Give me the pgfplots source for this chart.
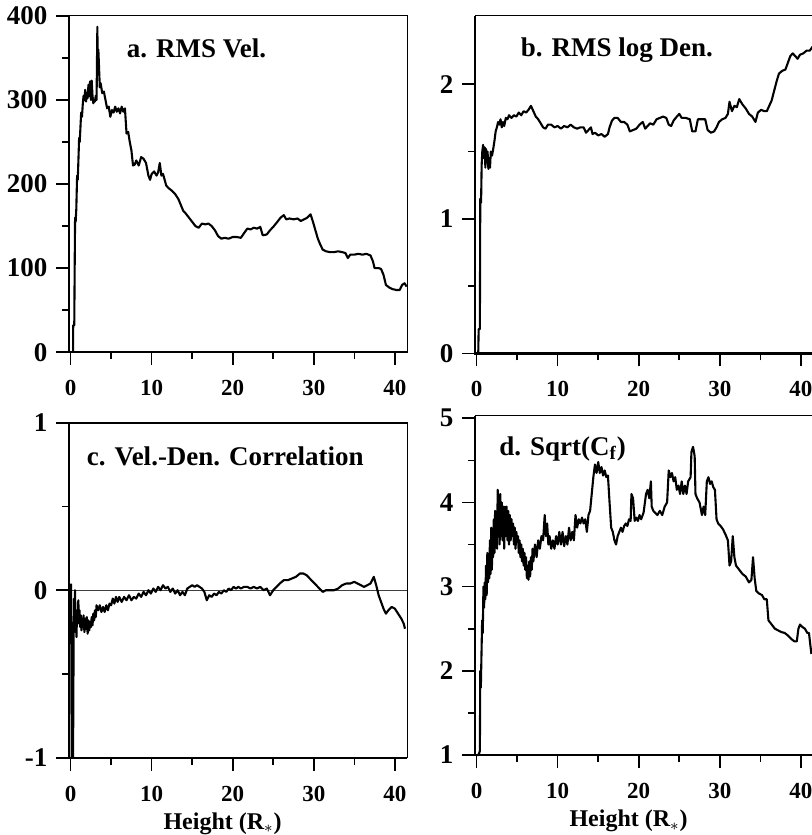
\documentclass[border=0pt]{standalone}
\usepackage{fontspec}
\setmainfont{Liberation Serif}
\usepackage{pgfplots}
\pgfplotsset{compat=1.18}
\pgfplotsset{
  panel/.style={
    scale only axis, width=169pt,
    xmin=-0.2, xmax=41.5,
    xtick={0,10,20,30,40}, xticklabels={0,10,20,30,40},
    minor x tick num=1, minor y tick num=1,
    tick align=outside, xtick pos=bottom, ytick pos=left,
    major tick length=6.5pt, minor tick length=3.5pt,
    tick style={black, line width=0.8pt},
    axis line style={line width=0.4pt},
    xticklabel style={font=\fontsize{11.5}{11.5}\selectfont\bfseries, yshift=-4pt},
    yticklabel style={font=\fontsize{13.5}{13.5}\selectfont\bfseries, xshift=-0.8pt},
    clip=false,
  },
  curve/.style={black, line width=1.05pt, mark=none, line join=round},
}
\tikzset{
  ttl/.style={anchor=base west, inner sep=0pt, font=\fontsize{13.5}{13.5}\selectfont\bfseries},
  hlab/.style={font=\fontsize{12}{12}\selectfont\bfseries},
}
\begin{document}
\begin{tikzpicture}
\useasboundingbox (0,0) rectangle (405.5pt,-417.5pt);
% ---------------- panel a
\begin{axis}[panel, at={(34.5pt,-7.5pt)}, anchor=north west, height=168.6pt,
  ymin=0, ymax=401, ytick={0,100,200,300,400}, yticklabels={0,100,200,300,400}]
\addplot[curve] coordinates {
(0.30,0)(0.32,32)(0.45,32)(0.50,100)(0.55,160)(0.62,155)(0.70,170)(0.80,210)(0.88,205)(0.95,225)
(1.05,255)(1.12,250)(1.20,265)(1.30,285)(1.40,280)(1.50,295)(1.60,305)(1.70,300)(1.80,312)(1.90,298)
(2.00,308)(2.10,302)(2.20,318)(2.30,305)(2.40,322)(2.50,300)(2.60,323)(2.70,305)(2.80,296)(2.90,300)
(3.00,298)(3.10,305)(3.20,300)(3.30,387)(3.35,330)(3.42,360)(3.50,340)(3.60,315)(3.70,320)(3.90,308)
(4.10,310)(4.30,300)(4.50,290)(4.70,292)(4.90,280)(5.10,288)(5.30,285)(5.50,292)(5.70,286)(5.90,290)
(6.10,284)(6.30,292)(6.50,286)(6.70,290)(6.90,260)(7.10,262)(7.30,250)(7.50,240)(7.70,222)(7.90,223)
(8.10,228)(8.40,222)(8.70,232)(9.00,230)(9.30,225)(9.60,210)(9.80,205)(10.00,212)(10.30,215)(10.60,210)
(10.80,214)(11.00,225)(11.20,210)(11.40,212)(11.60,205)(11.80,198)(12.10,195)(12.50,192)(12.90,188)(13.30,182)
(13.60,175)(13.90,168)(14.20,165)(14.60,160)(15.00,155)(15.40,150)(15.80,148)(16.20,153)(16.60,152)(17.00,153)
(17.40,150)(17.80,145)(18.20,138)(18.60,135)(19.00,136)(19.50,135)(20.00,137)(20.50,137)(21.00,136)(21.50,143)
(21.80,147)(22.20,146)(22.60,148)(23.00,147)(23.40,149)(23.70,139)(24.20,140)(24.60,145)(25.00,149)(25.50,155)
(25.90,160)(26.30,163)(26.60,158)(27.00,159)(27.50,158)(28.00,159)(28.40,156)(28.80,158)(29.20,160)(29.60,164)
(29.90,155)(30.20,145)(30.50,135)(30.80,128)(31.10,122)(31.50,120)(32.00,119)(32.50,119)(33.00,120)(33.50,119)
(33.90,118)(34.20,112)(34.50,116)(35.00,116)(35.50,117)(36.00,116)(36.50,117)(37.00,115)(37.30,108)(37.50,100)
(38.00,100)(38.30,99)(38.60,92)(38.90,80)(39.30,77)(39.70,75)(40.20,74)(40.60,74)(40.90,80)(41.20,82)(41.45,78)
};
\draw[line width=1.2pt] (rel axis cs:0,1) -- (rel axis cs:0,0) -- (rel axis cs:1,0);
\node[ttl] at (axis cs:6.9,350) {a. RMS Vel.};
\end{axis}
% ---------------- panel b
\begin{axis}[panel, at={(237.5pt,-7.85pt)}, anchor=north west, height=168.8pt,
  ymin=0, ymax=2.51, ytick={0,1,2}, yticklabels={0,1,2}]
\addplot[curve] coordinates {
(0.05,0)(0.20,0)(0.25,0.18)(0.40,0.18)(0.45,1.15)(0.55,1.12)(0.62,1.40)(0.70,1.50)(0.80,1.55)(0.90,1.45)
(1.00,1.53)(1.08,1.38)(1.15,1.52)(1.25,1.42)(1.35,1.50)(1.45,1.37)(1.55,1.45)(1.65,1.38)(1.75,1.50)(1.90,1.47)
(2.05,1.52)(2.20,1.58)(2.35,1.65)(2.50,1.68)(2.65,1.72)(2.80,1.70)(2.95,1.74)(3.10,1.68)(3.25,1.72)(3.40,1.69)
(3.60,1.75)(3.80,1.74)(4.00,1.77)(4.30,1.75)(4.60,1.77)(4.90,1.76)(5.20,1.79)(5.50,1.77)(5.80,1.80)(6.10,1.79)
(6.40,1.81)(6.70,1.84)(7.00,1.80)(7.30,1.76)(7.60,1.74)(7.90,1.71)(8.20,1.68)(8.50,1.67)(8.80,1.70)(9.20,1.70)
(9.60,1.68)(10.00,1.69)(10.40,1.67)(10.80,1.69)(11.20,1.68)(11.60,1.70)(12.00,1.68)(12.40,1.67)(12.80,1.68)(13.20,1.68)
(13.50,1.64)(13.80,1.66)(14.10,1.68)(14.30,1.63)(14.60,1.64)(15.00,1.62)(15.40,1.63)(15.80,1.61)(16.20,1.63)(16.40,1.68)
(16.70,1.73)(17.00,1.75)(17.40,1.75)(17.80,1.72)(18.20,1.72)(18.60,1.70)(18.90,1.65)(19.30,1.66)(19.70,1.67)(20.10,1.70)
(20.50,1.72)(20.80,1.67)(21.10,1.69)(21.40,1.71)(21.80,1.70)(22.20,1.74)(22.60,1.75)(23.00,1.76)(23.40,1.75)(23.70,1.70)
(24.00,1.69)(24.30,1.73)(24.70,1.76)(25.00,1.78)(25.30,1.75)(25.80,1.75)(26.30,1.74)(26.60,1.65)(27.00,1.65)(27.30,1.74)
(27.80,1.74)(28.20,1.74)(28.50,1.66)(28.90,1.64)(29.30,1.65)(29.60,1.68)(29.90,1.72)(30.30,1.74)(30.70,1.75)(31.00,1.78)
(31.20,1.87)(31.50,1.80)(31.80,1.84)(32.10,1.83)(32.40,1.89)(32.80,1.85)(33.20,1.82)(33.60,1.78)(34.00,1.76)(34.40,1.72)
(34.70,1.79)(35.10,1.81)(35.50,1.80)(35.80,1.80)(36.10,1.84)(36.40,1.88)(36.70,1.95)(37.00,2.02)(37.30,2.08)(37.70,2.10)
(38.10,2.11)(38.40,2.16)(38.70,2.21)(39.00,2.23)(39.30,2.21)(39.60,2.19)(39.90,2.22)(40.30,2.23)(40.70,2.25)(41.10,2.25)(41.45,2.28)
};
\draw[line width=1.2pt] (rel axis cs:0,1) -- (rel axis cs:0,0) -- (rel axis cs:1,0);
\node[ttl] at (axis cs:5.4,2.205) {b. RMS log Den.};
\end{axis}
% ---------------- panel c
\begin{axis}[panel, at={(34.5pt,-211.35pt)}, anchor=north west, height=167.5pt,
  ymin=-1, ymax=1, ytick={-1,0,1}, yticklabels={-1,0,1}]
\draw[line width=0.6pt, black!75] (axis cs:-0.2,0) -- (axis cs:41.5,0);
\addplot[curve] coordinates {
(0.05,0.04)(0.10,-0.5)(0.13,-1.0)(0.18,-0.98)(0.22,-0.6)(0.26,-0.6)(0.30,-1.0)(0.34,-0.6)(0.38,-0.2)(0.42,-0.05)
(0.48,-0.20)(0.55,0.00)(0.60,-0.25)(0.66,-0.15)(0.72,-0.28)(0.80,-0.12)(0.88,-0.20)(0.95,-0.06)(1.02,-0.18)(1.10,-0.12)
(1.18,-0.22)(1.26,-0.15)(1.34,-0.24)(1.42,-0.17)(1.50,-0.22)(1.60,-0.15)(1.70,-0.25)(1.80,-0.17)(1.90,-0.23)(2.00,-0.16)
(2.10,-0.26)(2.20,-0.18)(2.30,-0.24)(2.40,-0.19)(2.50,-0.22)(2.60,-0.16)(2.70,-0.21)(2.80,-0.14)(2.90,-0.18)(3.00,-0.12)
(3.10,-0.16)(3.20,-0.09)(3.40,-0.12)(3.60,-0.09)(3.80,-0.13)(4.00,-0.10)(4.20,-0.13)(4.40,-0.09)(4.60,-0.12)(4.80,-0.08)
(5.00,-0.09)(5.20,-0.05)(5.40,-0.08)(5.60,-0.04)(5.80,-0.07)(6.00,-0.04)(6.30,-0.07)(6.60,-0.04)(6.90,-0.06)(7.20,-0.03)
(7.50,-0.06)(7.80,-0.04)(8.10,-0.05)(8.40,-0.02)(8.70,-0.04)(9.00,-0.01)(9.30,-0.03)(9.60,0.00)(9.90,-0.02)(10.20,0.01)
(10.50,-0.01)(10.80,0.02)(11.10,0.00)(11.40,0.03)(11.70,0.01)(12.00,0.02)(12.30,-0.01)(12.60,0.01)(12.90,-0.02)(13.20,0.00)
(13.50,-0.03)(13.80,-0.01)(14.10,-0.03)(14.40,0.01)(14.70,0.02)(15.00,0.03)(15.30,0.02)(15.60,0.03)(15.90,0.02)(16.20,0.01)
(16.50,-0.01)(16.80,-0.06)(17.10,-0.03)(17.40,-0.04)(17.70,-0.02)(18.00,-0.03)(18.30,-0.01)(18.60,-0.02)(18.90,0.00)(19.20,-0.01)
(19.50,0.01)(19.80,0.00)(20.10,0.02)(20.40,0.01)(20.70,0.02)(21.00,0.01)(21.40,0.02)(21.80,0.02)(22.20,0.01)(22.60,0.02)
(23.00,0.01)(23.40,0.02)(23.80,0.00)(24.20,0.01)(24.60,-0.03)(25.00,0.00)(25.40,0.02)(25.80,0.04)(26.30,0.06)(26.80,0.06)
(27.30,0.07)(27.80,0.08)(28.30,0.10)(28.70,0.10)(29.10,0.09)(29.50,0.07)(29.90,0.05)(30.30,0.03)(30.70,0.01)(31.10,-0.01)
(31.50,0.00)(32.00,0.00)(32.50,0.00)(33.00,0.01)(33.50,0.03)(34.00,0.04)(34.50,0.04)(35.00,0.05)(35.40,0.04)(35.80,0.03)
(36.20,0.02)(36.60,0.03)(37.00,0.04)(37.40,0.08)(37.70,0.03)(38.00,-0.03)(38.30,-0.07)(38.60,-0.11)(38.90,-0.14)(39.20,-0.12)
(39.60,-0.10)(40.00,-0.11)(40.40,-0.14)(40.80,-0.17)(41.10,-0.20)(41.25,-0.23)
};
\draw[line width=1.2pt] (rel axis cs:0,1) -- (rel axis cs:0,0) -- (rel axis cs:1,0);
\draw[line width=0.9pt] (rel axis cs:0,1) -- (rel axis cs:1,1);
\node[ttl] at (axis cs:1.97,0.746) {c. Vel.-Den. Correlation};
\node[hlab] at (axis cs:18.75,-1) [yshift=-33pt] {Height (R$_{\ast}$)};
\end{axis}
% ---------------- panel d
\begin{axis}[panel, at={(237.5pt,-207.85pt)}, anchor=north west, height=169.65pt,
  ymin=1, ymax=5.03, ytick={1,2,3,4,5}, yticklabels={1,2,3,4,5}]
\addplot[curve] coordinates {
(0.05,1.00)(0.25,1.00)(0.40,1.05)(0.45,2.00)(0.52,1.80)(0.60,2.20)(0.68,2.60)(0.76,2.45)(0.84,3.00)(0.92,2.75)
(1.00,3.05)(1.08,2.85)(1.16,3.25)(1.24,2.90)(1.32,3.40)(1.40,3.05)(1.48,3.30)(1.56,3.10)(1.64,3.55)(1.72,3.15)
(1.80,3.70)(1.88,3.20)(1.96,3.60)(2.04,3.35)(2.12,3.80)(2.20,3.40)(2.28,3.90)(2.36,3.50)(2.44,3.85)(2.52,3.45)
(2.60,4.15)(2.68,3.60)(2.76,4.05)(2.84,3.50)(2.92,4.10)(3.00,3.60)(3.10,4.00)(3.20,3.55)(3.30,3.95)(3.40,3.45)
(3.50,3.95)(3.60,3.60)(3.70,3.95)(3.80,3.55)(3.90,3.90)(4.00,3.50)(4.10,3.85)(4.20,3.55)(4.30,3.80)(4.40,3.60)
(4.50,3.75)(4.60,3.50)(4.70,3.70)(4.80,3.45)(4.90,3.65)(5.00,3.55)(5.10,3.60)(5.20,3.40)(5.30,3.55)(5.40,3.35)
(5.50,3.50)(5.60,3.30)(5.70,3.45)(5.80,3.25)(5.90,3.40)(6.00,3.20)(6.10,3.35)(6.20,3.10)(6.30,3.25)(6.40,3.08)
(6.50,3.30)(6.60,3.12)(6.70,3.35)(6.80,3.20)(6.90,3.45)(7.00,3.30)(7.20,3.50)(7.40,3.35)(7.60,3.55)(7.80,3.45)
(8.00,3.60)(8.20,3.55)(8.40,3.85)(8.55,3.60)(8.70,3.75)(8.85,3.50)(9.00,3.60)(9.20,3.45)(9.40,3.55)(9.60,3.45)
(9.80,3.60)(10.00,3.50)(10.20,3.65)(10.40,3.50)(10.60,3.65)(10.80,3.48)(11.00,3.60)(11.20,3.50)(11.40,3.70)(11.60,3.55)
(11.80,3.65)(12.00,3.55)(12.20,3.85)(12.40,3.70)(12.60,3.80)(12.80,3.75)(13.00,3.82)(13.20,3.75)(13.40,3.80)(13.60,3.65)
(13.80,3.85)(14.00,3.90)(14.20,4.10)(14.40,4.30)(14.60,4.45)(14.80,4.35)(15.00,4.48)(15.20,4.35)(15.40,4.42)(15.60,4.32)
(15.80,4.38)(16.00,4.30)(16.20,4.32)(16.40,4.00)(16.60,3.70)(16.80,3.65)(17.00,3.55)(17.20,3.50)(17.40,3.60)(17.60,3.65)
(17.80,3.70)(18.00,3.65)(18.20,3.72)(18.40,3.75)(18.60,3.72)(18.80,3.80)(19.00,3.78)(19.10,4.10)(19.30,4.05)(19.50,3.78)
(19.70,3.82)(19.90,3.78)(20.10,3.85)(20.30,3.80)(20.60,3.88)(20.90,4.10)(21.10,4.15)(21.30,4.05)(21.50,4.25)(21.60,3.95)
(21.80,3.90)(22.00,3.88)(22.30,3.85)(22.60,3.90)(22.90,3.85)(23.20,3.95)(23.50,4.00)(23.70,4.38)(23.90,4.30)(24.10,4.35)
(24.30,4.25)(24.50,4.30)(24.70,4.15)(24.90,4.20)(25.10,4.10)(25.30,4.25)(25.50,4.10)(25.70,4.20)(25.90,4.10)(26.10,4.25)
(26.40,4.30)(26.50,4.60)(26.70,4.66)(26.90,4.55)(27.00,4.10)(27.20,4.05)(27.50,4.00)(27.80,3.85)(28.00,3.95)(28.20,3.85)
(28.40,4.25)(28.60,4.30)(28.80,4.22)(29.00,4.25)(29.20,4.18)(29.40,4.15)(29.60,3.80)(29.80,3.75)(30.10,3.72)(30.40,3.68)
(30.70,3.62)(31.00,3.55)(31.20,3.25)(31.40,3.30)(31.60,3.60)(31.80,3.35)(32.00,3.25)(32.40,3.20)(32.80,3.15)(33.20,3.12)
(33.60,3.05)(33.90,3.08)(34.10,3.35)(34.30,3.10)(34.50,2.95)(34.80,2.92)(35.20,2.90)(35.50,2.85)(35.80,2.85)(36.00,2.60)
(36.40,2.55)(36.80,2.50)(37.20,2.48)(37.60,2.46)(38.00,2.45)(38.40,2.42)(38.80,2.38)(39.20,2.35)(39.50,2.35)(39.70,2.50)
(39.90,2.55)(40.20,2.52)(40.50,2.50)(40.80,2.45)(41.00,2.45)(41.30,2.20)
};
\draw[line width=1.2pt] (rel axis cs:0,1) -- (rel axis cs:0,0) -- (rel axis cs:1,0);
\node[ttl] at (axis cs:2.76,4.56) {d. Sqrt(C\textsubscript{f})};
\node[hlab] at (axis cs:18.75,1) [yshift=-33pt] {Height (R$_{\ast}$)};
\end{axis}
\end{tikzpicture}
\end{document}
